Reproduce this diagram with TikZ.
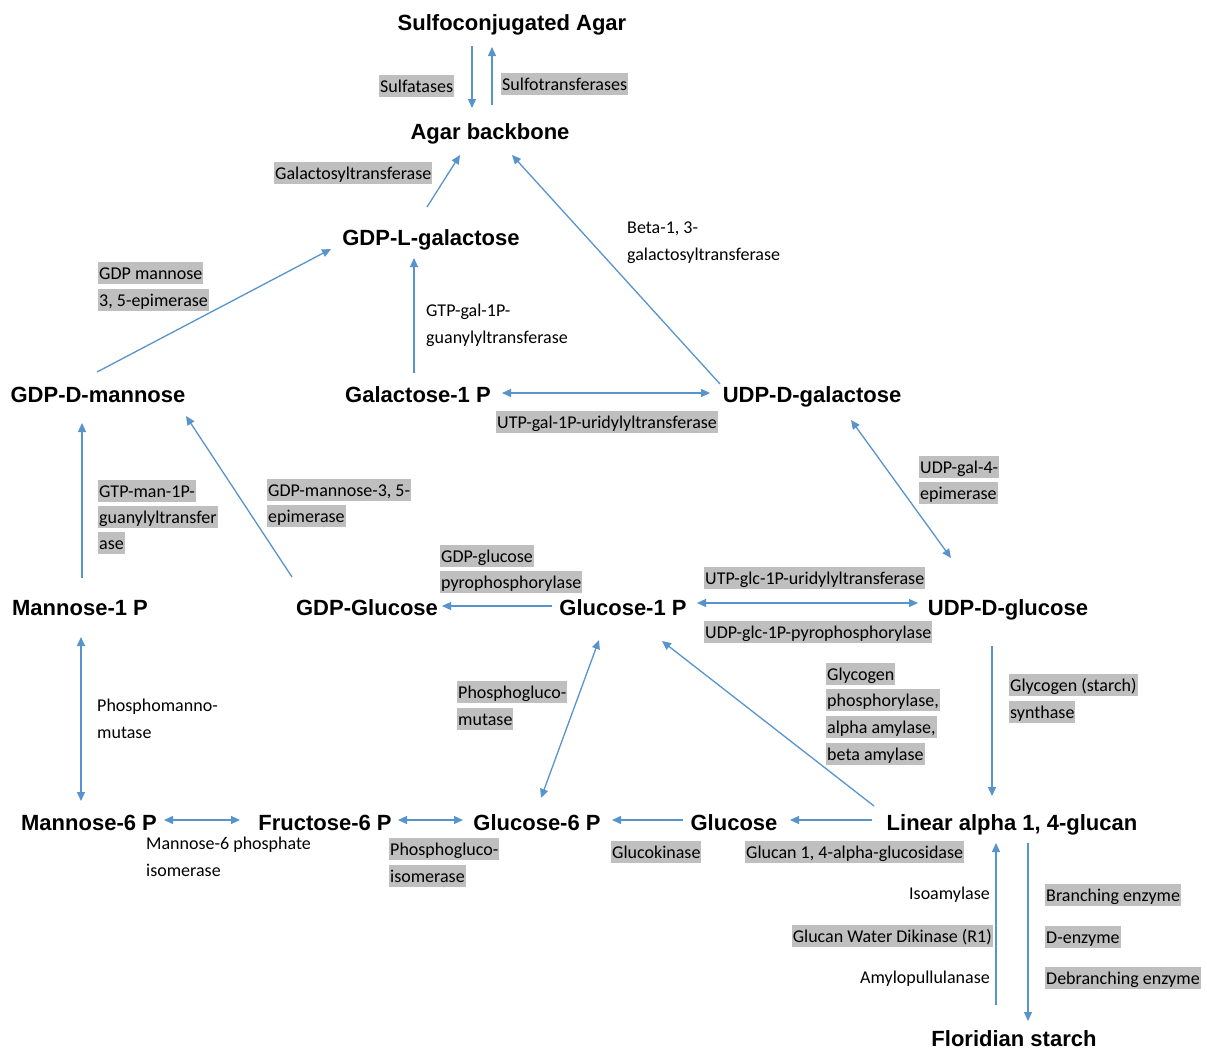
\documentclass[tikz,border=0pt]{standalone}
\usepackage{fontspec}
\usetikzlibrary{arrows.meta,calc}
\newfontfamily\headfont{Liberation Sans}
\newfontfamily\enzfont{Carlito}
\definecolor{arrblue}{RGB}{88,148,204}
\definecolor{hlgray}{RGB}{191,191,191}

\begin{document}
\begin{tikzpicture}[x=1pt,y=-1pt,
  met/.style={font=\headfont\bfseries\fontsize{22}{26}\selectfont, inner sep=0pt,
              text height=16pt, text depth=0pt},
  enz/.style={font=\enzfont\fontsize{18}{21}\selectfont, inner xsep=1pt, inner ysep=1pt,
              text height=16pt, text depth=3.5pt, anchor=west},
  hl/.style={enz, fill=hlgray},
  one/.style={draw=arrblue, line width=1.3pt, -{Triangle[length=9pt,width=8pt]}},
  two/.style={draw=arrblue, line width=1.3pt, {Triangle[length=9pt,width=8pt]}-{Triangle[length=9pt,width=8pt]}}
]
\useasboundingbox[fill=white] (0,0) rectangle (1207,1050);

% metabolites
\node[met] (sulfo)   at (512,22)   {Sulfoconjugated Agar};
\node[met] (agar)    at (490,131)  {Agar backbone};
\node[met] (gdplgal) at (431,237)  {GDP-L-galactose};
\node[met] (gdpdman) at (98,394)   {GDP-D-mannose};
\node[met] (gal1p)   at (418,394)  {Galactose-1 P};
\node[met] (udpgal)  at (812,394)  {UDP-D-galactose};
\node[met] (man1p)   at (80,607)   {Mannose-1 P};
\node[met] (gdpglc)  at (367,607)  {GDP-Glucose};
\node[met] (glc1p)   at (623,607)  {Glucose-1 P};
\node[met] (udpglc)  at (1008,607) {UDP-D-glucose};
\node[met] (man6p)   at (89,822)   {Mannose-6 P};
\node[met] (fru6p)   at (325,822)  {Fructose-6 P};
\node[met] (glc6p)   at (537,822)  {Glucose-6 P};
\node[met] (glc)     at (734,822)  {Glucose};
\node[met] (linear)  at (1012,822) {Linear alpha 1, 4-glucan};
\node[met] (starch)  at (1014,1038){Floridian starch};

% enzymes
\node[hl]  (e1)  at (379,86)   {Sulfatases};
\node[hl]  (e2)  at (501,84)   {Sulfotransferases};
\node[hl]  (e3)  at (274,173)  {Galactosyltransferase};
\node[hl]  (e4a) at (98,273)   {GDP mannose};
\node[hl]  (e4b) at (98,300)   {3, 5-epimerase};
\node[enz] (e5a) at (626,227)  {Beta-1, 3-};
\node[enz] (e5b) at (626,254)  {galactosyltransferase};
\node[enz] (e6a) at (425,310)  {GTP-gal-1P-};
\node[enz] (e6b) at (425,337)  {guanylyltransferase};
\node[hl]  (e7)  at (496,422)  {UTP-gal-1P-uridylyltransferase};
\node[hl]  (e8a) at (919,467)  {UDP-gal-4-};
\node[hl]  (e8b) at (919,493)  {epimerase};
\node[hl]  (e9a) at (98,491)   {GTP-man-1P-};
\node[hl]  (e9b) at (98,517)   {guanylyltransfer};
\node[hl]  (e9c) at (98,543)   {ase};
\node[hl]  (e10a) at (267,490) {GDP-mannose-3, 5-};
\node[hl]  (e10b) at (267,516) {epimerase};
\node[hl]  (e11a) at (440,556) {GDP-glucose};
\node[hl]  (e11b) at (440,582) {pyrophosphorylase};
\node[hl]  (e12) at (704,578)  {UTP-glc-1P-uridylyltransferase};
\node[hl]  (e13) at (704,632)  {UDP-glc-1P-pyrophosphorylase};
\node[enz] (e14a) at (96,705)  {Phosphomanno-};
\node[enz] (e14b) at (96,732)  {mutase};
\node[hl]  (e15a) at (457,692) {Phosphogluco-};
\node[hl]  (e15b) at (457,719) {mutase};
\node[hl]  (e16a) at (826,674) {Glycogen};
\node[hl]  (e16b) at (826,700) {phosphorylase,};
\node[hl]  (e16c) at (826,727) {alpha amylase,};
\node[hl]  (e16d) at (826,754) {beta amylase};
\node[hl]  (e17a) at (1009,685) {Glycogen (starch)};
\node[hl]  (e17b) at (1009,712) {synthase};
\node[enz] (e18a) at (145,843) {Mannose-6 phosphate};
\node[enz] (e18b) at (145,870) {isomerase};
\node[hl]  (e19a) at (389,849) {Phosphogluco-};
\node[hl]  (e19b) at (389,876) {isomerase};
\node[hl]  (e20) at (611,852)  {Glucokinase};
\node[hl]  (e21) at (745,852)  {Glucan 1, 4-alpha-glucosidase};
\node[enz, anchor=east] (e22) at (991,893) {Isoamylase};
\node[hl,  anchor=east] (e23) at (993,936) {Glucan Water Dikinase (R1)};
\node[enz, anchor=east] (e24) at (991,977) {Amylopullulanase};
\node[hl]  (e25) at (1045,895) {Branching enzyme};
\node[hl]  (e26) at (1045,937) {D-enzyme};
\node[hl]  (e27) at (1045,978) {Debranching enzyme};

% reactions
\draw[one] ($(sulfo)+(-40,24)$) -- ($(agar)+(-18,-23)$);
\draw[one] ($(agar)+(2,-26)$) -- ($(sulfo)+(-20,25)$);
\draw[one] ($(gdplgal)+(-4,-30)$) -- ($(agar)+(-30,24)$);
\draw[one] ($(udpgal)+(-92,-10)$) -- ($(agar)+(22,24)$);
\draw[one] ($(gdpdman)+(-1,-22)$) -- ($(gdplgal)+(-100,12)$);
\draw[one] ($(gal1p)+(-4,-21)$) -- ($(gdplgal)+(-17,21)$);
\draw[two] ($(gal1p)+(84,-1)$) -- ($(udpgal)+(-102,-1)$);
\draw[two] ($(udpgal)+(39,26)$) -- ($(udpglc)+(-57,-49)$);
\draw[one] ($(man1p)+(2,-29)$) -- ($(gdpdman)+(-16,29)$);
\draw[one] ($(gdpglc)+(-75,-30)$) -- ($(gdpdman)+(88,22)$);
\draw[one] ($(glc1p)+(-71,-1)$) -- ($(gdpglc)+(75,-1)$);
\draw[two] ($(glc1p)+(74,-4)$) -- ($(udpglc)+(-90,-4)$);
\draw[two] ($(man1p)+(1,30)$) -- ($(man6p)+(-8,-21)$);
\draw[two] ($(man6p)+(75,-2)$) -- ($(fru6p)+(-85,-2)$);
\draw[two] ($(fru6p)+(73,-2)$) -- ($(glc6p)+(-74,-2)$);
\draw[one] ($(glc)+(-51,-2)$) -- ($(glc6p)+(75,-2)$);
\draw[one] ($(linear)+(-140,-2)$) -- ($(glc)+(56,-2)$);
\draw[two] ($(glc1p)+(-24,33)$) -- ($(glc6p)+(4,-24)$);
\draw[one] ($(linear)+(-138,-16)$) -- ($(glc1p)+(39,34)$);
\draw[one] ($(udpglc)+(-16,39)$) -- ($(linear)+(-20,-26)$);
\draw[one] ($(starch)+(-18,-33)$) -- ($(linear)+(-16,21)$);
\draw[one] ($(linear)+(16,21)$) -- ($(starch)+(14,-17)$);
\end{tikzpicture}
\end{document}
